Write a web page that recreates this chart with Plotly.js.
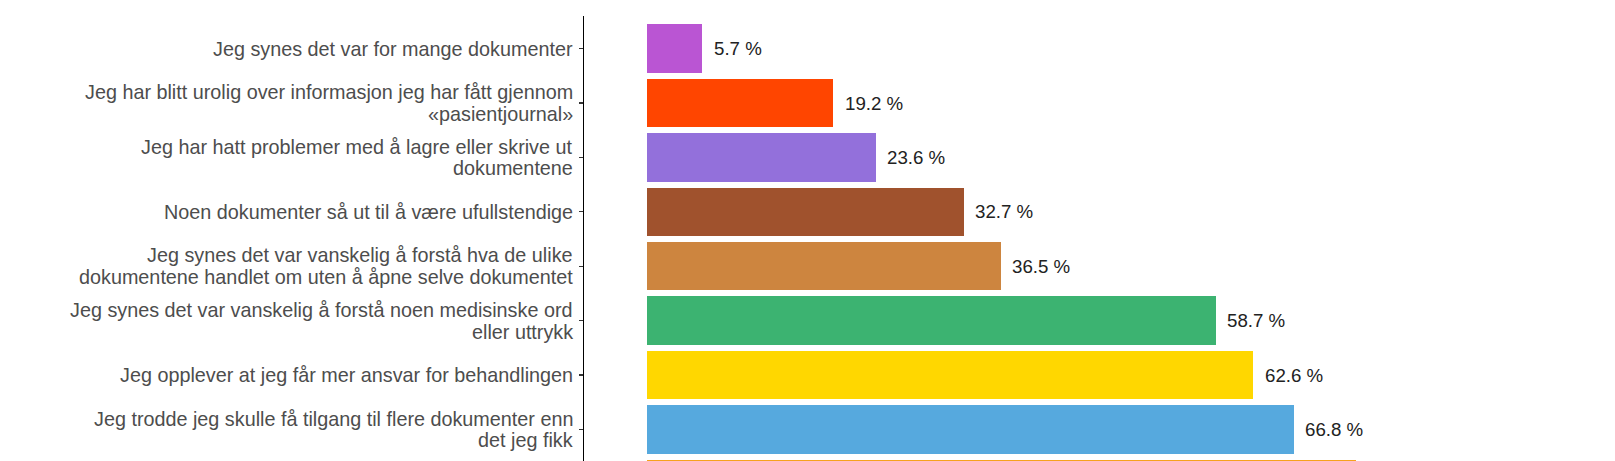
<!DOCTYPE html>
<html>
<head>
<meta charset="utf-8">
<script src="https://cdn.plot.ly/plotly-3.0.1.min.js"></script>
<style>html,body{margin:0;padding:0;background:#fff;}#chart{width:1615px;height:461px;}</style>
</head>
<body>
<div id="chart"></div>
<script>
// Categories (top to bottom); "\n" marks the line break used in the original labels
const categories = [
  "Jeg synes det var for mange dokumenter",
  "Jeg har blitt urolig over informasjon jeg har fått gjennom\n«pasientjournal»",
  "Jeg har hatt problemer med å lagre eller skrive ut\ndokumentene",
  "Noen dokumenter så ut til å være ufullstendige",
  "Jeg synes det var vanskelig å forstå hva de ulike\ndokumentene handlet om uten å åpne selve dokumentet",
  "Jeg synes det var vanskelig å forstå noen medisinske ord\neller uttrykk",
  "Jeg opplever at jeg får mer ansvar for behandlingen",
  "Jeg trodde jeg skulle få tilgang til flere dokumenter enn\ndet jeg fikk",
  " "
];
const values = [5.7, 19.2, 23.6, 32.7, 36.5, 58.7, 62.6, 66.8, 73.2];
const colors = ["#BA55D3", "#FF4500", "#9370DB", "#A0522D", "#CD853F", "#3CB371", "#FFD700", "#56A9DE", "#F6A21E"];

const FONT = "Liberation Sans, Arial, sans-serif";

const trace = {
  type: "bar",
  orientation: "h",
  y: categories,
  x: values,
  width: 0.89,
  marker: {color: colors, line: {width: 0}},
  hoverinfo: "skip"
};

const annotations = [];
categories.forEach((c, i) => {
  const lines = c.split("\n");
  const n = lines.length;
  const spacing = 21.7;
  lines.forEach((ln, j) => {
    if (!ln.trim()) return;
    annotations.push({
      xref: "paper", yref: "y", x: 0, y: c,
      text: ln, showarrow: false,
      xanchor: "right", yanchor: "middle", align: "right",
      xshift: -11, yshift: -((j - (n - 1) / 2) * spacing),
      borderpad: 0, borderwidth: 0,
      font: {family: FONT, size: 19.8, color: "#4D4D4D"}
    });
  });
  annotations.push({
    xref: "x", yref: "y", x: values[i], y: c,
    text: values[i].toFixed(1) + " %", showarrow: false,
    xanchor: "left", yanchor: "middle",
    xshift: 11.5, borderpad: 0, borderwidth: 0,
    font: {family: FONT, size: 18.7, color: "#222222"}
  });
});

const layout = {
  width: 1615, height: 461,
  margin: {l: 584, r: 0, t: 16, b: 0, pad: 0},
  paper_bgcolor: "#ffffff", plot_bgcolor: "#ffffff",
  showlegend: false,
  bargap: 0,
  xaxis: {
    range: [-6.54, 99.96], showgrid: false, zeroline: false,
    showticklabels: false, ticks: "", showline: false, fixedrange: true
  },
  yaxis: {
    type: "category", categoryorder: "array", categoryarray: categories,
    range: [7.58, -0.6], showgrid: false, zeroline: false,
    showline: true, linecolor: "#000000", linewidth: 1.1,
    ticks: "outside", ticklen: 4, tickwidth: 1.1, tickcolor: "#333333",
    showticklabels: false, fixedrange: true
  },
  annotations: annotations,
  font: {family: FONT}
};

Plotly.newPlot("chart", [trace], layout, {displayModeBar: false, staticPlot: true});
</script>
</body>
</html>
